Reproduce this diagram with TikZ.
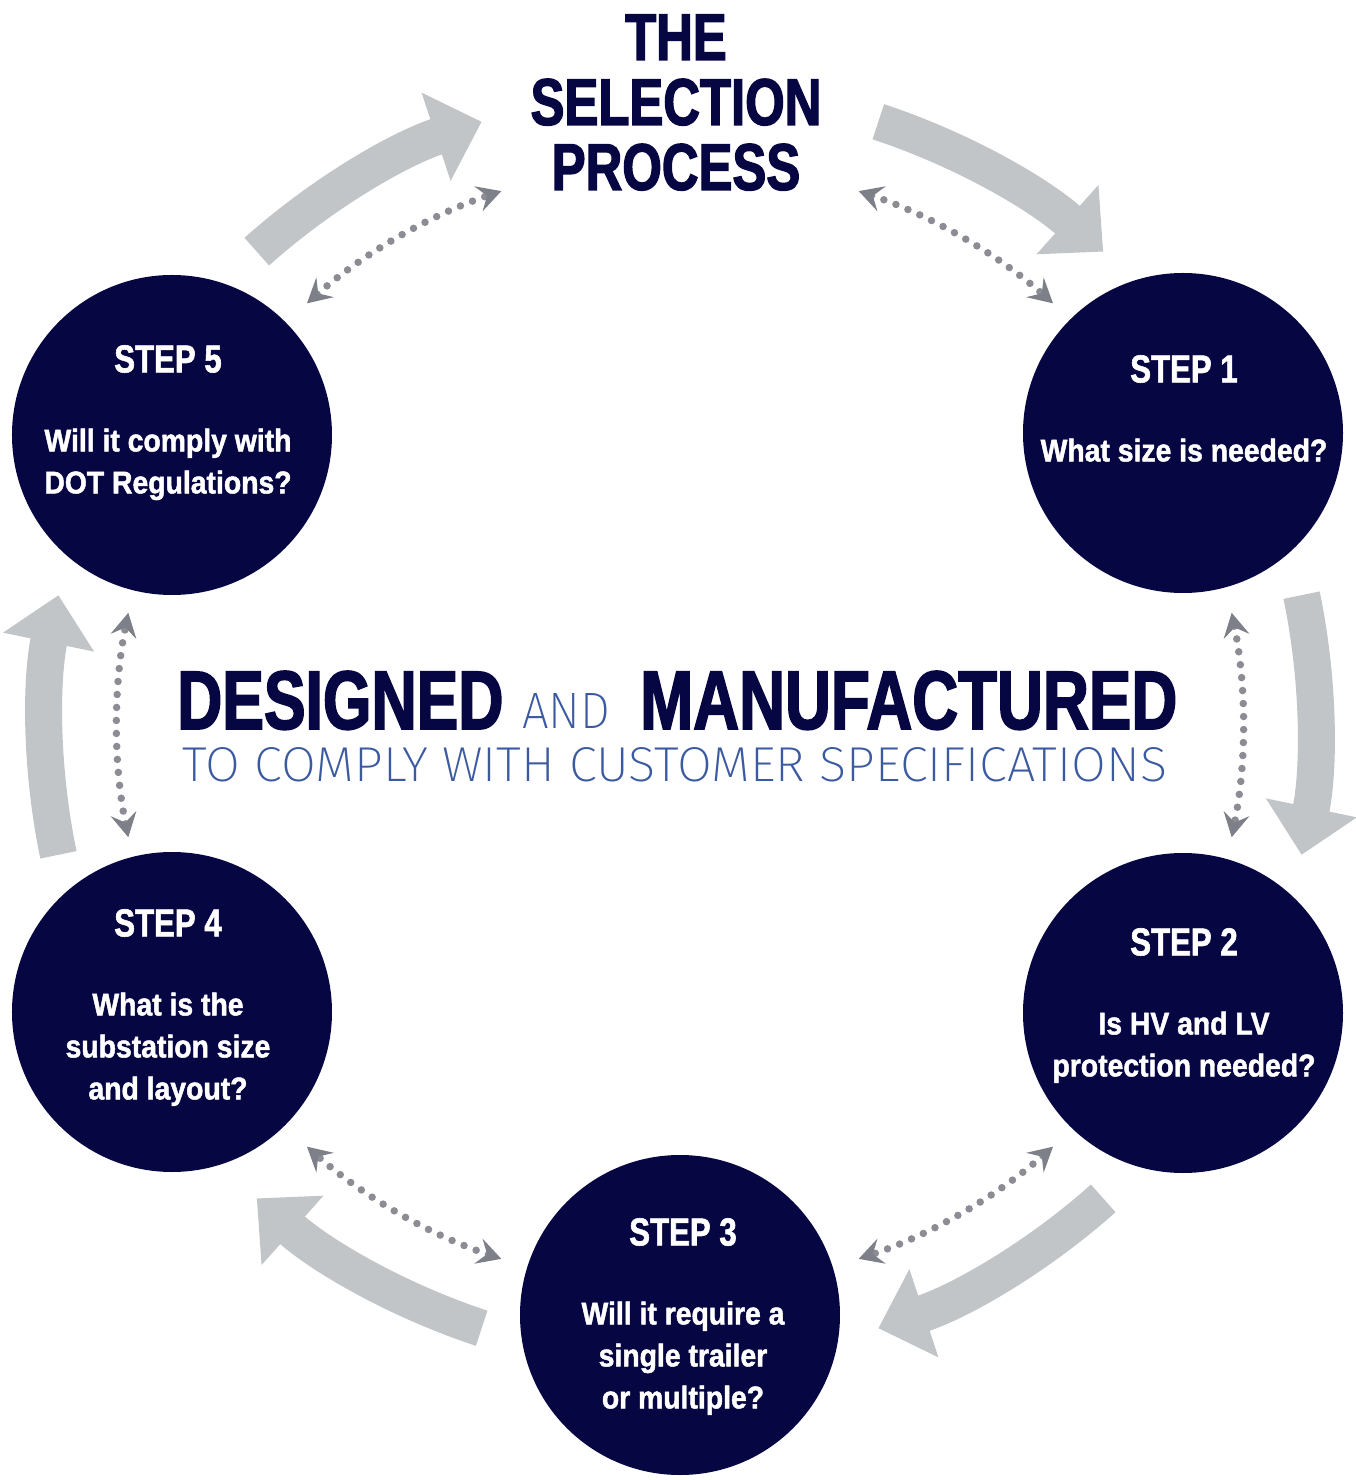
\documentclass[tikz,border=0pt]{standalone}
\usepackage{fontspec}
\usepackage{graphicx}
\usetikzlibrary{arrows.meta}
\setmainfont{Liberation Sans}
\newfontfamily\titlefont[FakeStretch=0.77,FakeBold=2]{Liberation Sans}
\newfontfamily\stepfont[FakeStretch=0.80,FakeBold=1.5]{Liberation Sans}
\newfontfamily\askfont[FakeStretch=0.90,FakeBold=1.5]{Liberation Sans}
\newfontfamily\thinfont{Fira Sans ExtraLight}
\definecolor{navy}{RGB}{6,6,66}
\definecolor{loopgray}{RGB}{194,197,200}
\definecolor{dotgray}{RGB}{140,140,148}
\definecolor{tipgray}{RGB}{125,128,136}
\definecolor{specblue}{RGB}{60,90,160}

\begin{document}
\begin{tikzpicture}[x=1pt,y=1pt,
  stepdisc/.style={circle,fill=navy,minimum size=320pt,inner sep=0pt},
  steptext/.style={anchor=north,inner sep=0pt,align=center,text=white,
    font=\askfont\bfseries\fontsize{31.5}{42}\selectfont},
  cyclearrow/.style={draw=loopgray,line width=37pt,-{Triangle[length=48pt,width=90pt,color=loopgray]}},
  dotlink/.style={draw=dotgray,line width=7.5pt,line cap=round,dash pattern=on 0pt off 13pt,
    {Stealth[length=24pt,width=26pt,inset=9pt,color=tipgray]}-{Stealth[length=24pt,width=26pt,inset=9pt,color=tipgray]}}]
\useasboundingbox (-680,-755) rectangle (675,725);
\coordinate (hub) at (0,0);

\node (title) at (-4,622.5) [inner sep=0pt,align=center,text=navy,
  font=\titlefont\bfseries\fontsize{66}{65}\selectfont] {THE\\SELECTION\\PROCESS};

\node (designed) at (-503,-4) [anchor=base west,inner sep=0pt,text=navy]
  {\resizebox{326pt}{58pt}{\titlefont\bfseries DESIGNED}};
\node (and) at (-158,-4) [anchor=base west,inner sep=0pt,text=specblue]
  {\resizebox{88pt}{35pt}{\thinfont AND}};
\node (manufactured) at (-40,-4) [anchor=base west,inner sep=0pt,text=navy]
  {\resizebox{537pt}{58pt}{\titlefont\bfseries MANUFACTURED}};
\node (spec) at (-5,-57) [anchor=base,inner sep=0pt,text=specblue]
  {\resizebox{984pt}{34pt}{\thinfont TO COMPLY WITH CUSTOMER SPECIFICATIONS}};

\node[stepdisc] (s1) at (503,292) {};
\node[stepdisc] (s2) at (503,-288) {};
\node[stepdisc] (s3) at (0,-590) {};
\node[stepdisc] (s4) at (-508,-287) {};
\node[stepdisc] (s5) at (-508,290) {};

\node[steptext] (t1) at (504,370) {{\stepfont\fontsize{39}{42}\selectfont STEP 1}\\[37pt]What size is needed?};
\node[steptext] (t2) at (504,-203) {{\stepfont\fontsize{39}{42}\selectfont STEP 2}\\[37pt]Is HV and LV\\protection needed?};
\node[steptext] (t3) at (3,-493) {{\stepfont\fontsize{39}{42}\selectfont STEP 3}\\[37pt]Will it require a\\single trailer\\or multiple?};
\node[steptext] (t4) at (-512,-184) {{\stepfont\fontsize{39}{42}\selectfont STEP 4}\\[37pt]What is the\\substation size\\and layout?};
\node[steptext] (t5) at (-512,380) {{\stepfont\fontsize{39}{42}\selectfont STEP 5}\\[37pt]Will it comply with\\DOT Regulations?};

% big arrows round the cycle
\draw[cyclearrow] ([shift={(71.8:635)}]hub) arc[start angle=71.8,end angle=48.2,radius=635];
\draw[cyclearrow] ([shift={(11.8:635)}]hub) arc[start angle=11.8,end angle=-11.8,radius=635];
\draw[cyclearrow] ([shift={(-48.2:635)}]hub) arc[start angle=-48.2,end angle=-71.8,radius=635];
\draw[cyclearrow] ([shift={(-108.2:635)}]hub) arc[start angle=-108.2,end angle=-131.8,radius=635];
\draw[cyclearrow] ([shift={(-168.2:635)}]hub) arc[start angle=-168.2,end angle=-191.8,radius=635];
\draw[cyclearrow] ([shift={(131.8:635)}]hub) arc[start angle=131.8,end angle=108.2,radius=635];

% dotted links
\draw[dotlink] ([shift={(71.5:563)}]hub) arc[start angle=71.5,end angle=48.5,radius=563];
\draw[dotlink] ([shift={(11.5:563)}]hub) arc[start angle=11.5,end angle=-11.5,radius=563];
\draw[dotlink] ([shift={(-48.5:563)}]hub) arc[start angle=-48.5,end angle=-71.5,radius=563];
\draw[dotlink] ([shift={(-108.5:563)}]hub) arc[start angle=-108.5,end angle=-131.5,radius=563];
\draw[dotlink] ([shift={(-168.5:563)}]hub) arc[start angle=-168.5,end angle=-191.5,radius=563];
\draw[dotlink] ([shift={(131.5:563)}]hub) arc[start angle=131.5,end angle=108.5,radius=563];
\end{tikzpicture}
\end{document}
